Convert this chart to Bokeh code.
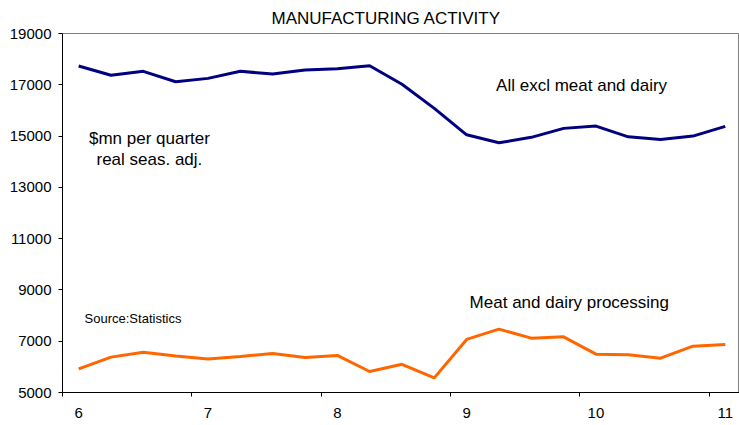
from bokeh.plotting import figure
from bokeh.models import Range1d, FixedTicker, Label
from bokeh.embed import file_html
from bokeh.resources import INLINE

quarters = [6.0, 6.25, 6.5, 6.75, 7.0, 7.25, 7.5, 7.75, 8.0, 8.25, 8.5,
            8.75, 9.0, 9.25, 9.5, 9.75, 10.0, 10.25, 10.5, 10.75, 11.0]
all_excl = [17730, 17370, 17525, 17120, 17250, 17525, 17420, 17575, 17625, 17740, 17020,
            16080, 15050, 14740, 14950, 15300, 15390, 14970, 14870, 15000, 15380]
meat_dairy = [5920, 6380, 6570, 6420, 6310, 6405, 6520, 6365, 6445, 5820, 6100,
              5570, 7070, 7470, 7120, 7170, 6495, 6470, 6340, 6805, 6875]
year_ticks = [6, 7, 8, 9, 10, 11]
year_bounds = [5.875, 6.875, 7.875, 8.875, 9.875, 10.875]
y_ticks = [5000, 7000, 9000, 11000, 13000, 15000, 17000, 19000]

FONT = "Liberation Sans"

p = figure(width=739, height=425, output_backend="svg", toolbar_location=None,
           x_range=Range1d(5.875, 11.11), y_range=Range1d(5000, 19000),
           min_border_left=62, min_border_right=0, min_border_bottom=33, min_border_top=33)

p.title.text = "MANUFACTURING ACTIVITY"
p.title.text_font = FONT
p.title.text_font_size = "17px"
p.title.text_font_style = "normal"
p.title.text_color = "black"
p.title.align = "left"
p.title.vertical_align = "top"
p.title.offset = 209
p.title.standoff = 8

p.grid.visible = False
p.outline_line_color = "#808080"
p.outline_line_width = 1
p.background_fill_color = "white"
p.border_fill_color = "white"

p.line(quarters, all_excl, line_color="#000080", line_width=3)
p.line(quarters, meat_dairy, line_color="#FF6600", line_width=3)

xa = p.xaxis[0]
xa.ticker = FixedTicker(ticks=year_ticks, minor_ticks=year_bounds)
xa.major_tick_line_color = None
xa.major_tick_out = 4
xa.major_tick_in = 0
xa.minor_tick_out = 4
xa.minor_tick_in = 0
xa.minor_tick_line_color = "black"
xa.axis_line_color = "black"
xa.major_label_text_font = FONT
xa.major_label_text_font_size = "15px"
xa.major_label_text_color = "black"
xa.major_label_standoff = 11

ya = p.yaxis[0]
ya.ticker = FixedTicker(ticks=y_ticks)
ya.minor_tick_line_color = None
ya.major_tick_out = 4
ya.major_tick_in = 0
ya.major_tick_line_color = "black"
ya.axis_line_color = "black"
ya.major_label_text_font = FONT
ya.major_label_text_font_size = "15px"
ya.major_label_text_color = "black"
ya.major_label_standoff = 7

def add_label(x, y, text, size="17px"):
    p.add_layout(Label(x=x, y=y, text=text, text_font=FONT, text_font_size=size,
                       text_color="black", text_align="center", text_baseline="middle"))

add_label(9.889, 16990, "All excl meat and dairy")
add_label(9.794, 8523, "Meat and dairy processing")
add_label(6.547, 14922, "$mn per quarter")
add_label(6.547, 14103, "real seas. adj.")
add_label(6.42, 7872, "Source:Statistics", size="13px")

open("out.html", "w").write(file_html(p, INLINE))
